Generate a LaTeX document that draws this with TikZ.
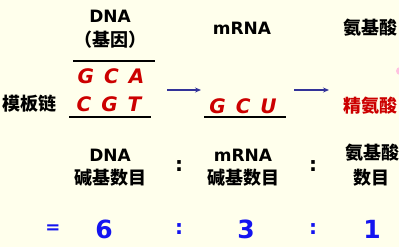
\documentclass[tikz,border=0pt]{standalone}
\usepackage{fontspec}
\setmainfont{DejaVu Sans}
\newfontfamily\cjk{Noto Sans CJK SC}
\usetikzlibrary{arrows.meta}
\definecolor{bgcol}{HTML}{FFFFEC}
\definecolor{redtxt}{HTML}{CC0000}
\definecolor{bluetxt}{HTML}{1414F0}
\definecolor{arrowcol}{HTML}{333399}
\begin{document}
\begin{tikzpicture}[x=1pt,y=-1pt,
  head/.style={font=\fontsize{17}{19}\selectfont\bfseries, text=black, inner sep=0pt, align=center},
  zh/.style={font=\fontsize{18}{21}\selectfont\cjk\bfseries, text=black, inner sep=0pt, align=center},
  base/.style={font=\fontsize{20}{22}\selectfont\bfseries\itshape, text=redtxt, inner sep=0pt},
  num/.style={font=\fontsize{25}{27}\selectfont\bfseries, text=bluetxt, inner sep=0pt},
  colon/.style={font=\fontsize{20}{22}\selectfont\bfseries, inner sep=0pt},
  uline/.style={line width=1.4pt, black},
  flow/.style={line width=1.3pt, arrowcol, -{Stealth[length=6pt,width=5pt]}}]
\fill[bgcol] (0,0) rectangle (399,247);
\useasboundingbox (0,0) rectangle (399,247);
% top row headers
\node[head] (dnaH) at (110,16) {DNA};
\node[zh] (gene) at (110,40) {（基因）};
\node[head] (mrnaH) at (242,28) {mRNA};
\node[zh] (aaH) at (370,28) {氨基酸};
% DNA strands
\draw[uline] (73,61) -- (155,61);
\node[base] (gca) at (111,76) {G\hspace{0.5em}C\hspace{0.5em}A};
\node[zh] (tmpl) at (29,104) {模板链};
\node[base] (cgt) at (109,104) {C\hspace{0.5em}G\hspace{0.5em}T};
\draw[uline] (69,117) -- (151,117);
% mRNA
\node[base] (gcu) at (243,106) {G\hspace{0.5em}C\hspace{0.5em}U};
\draw[uline] (204,117) -- (286,117);
% amino acid
\node[zh, text=redtxt] (arg) at (370,106) {精氨酸};
% arrows
\coordinate (a1s) at (167,90);
\coordinate (a1e) at (201,90);
\coordinate (a2s) at (294,90);
\coordinate (a2e) at (329,90);
\draw[flow] (a1s) -- (a1e);
\draw[flow] (a2s) -- (a2e);
% pink dot at edge
\fill[pink!80!magenta!60] (400,71) circle (4);
% ratio row
\node[head] (dnaB) at (110,155) {DNA};
\node[zh] (dnaC) at (110,178) {碱基数目};
\node[colon] (c1) at (179,166) {:};
\node[head] (mrnaB) at (243,155) {mRNA};
\node[zh] (mrnaC) at (243,178) {碱基数目};
\node[colon] (c2) at (313,166) {:};
\node[zh] (aaB) at (372,153) {氨基酸};
\node[zh] (aaC) at (371,178) {数目};
% numbers
\node[num, font=\fontsize{18}{20}\selectfont\bfseries] (eq) at (53,229) {=};
\node[num] (n6) at (104,229) {6};
\node[num, font=\fontsize{20}{22}\selectfont\bfseries] (c3) at (179,229) {:};
\node[num] (n3) at (246,229) {3};
\node[num, font=\fontsize{20}{22}\selectfont\bfseries] (c4) at (313,229) {:};
\node[num] (n1) at (372,229) {1};
\end{tikzpicture}
\end{document}
